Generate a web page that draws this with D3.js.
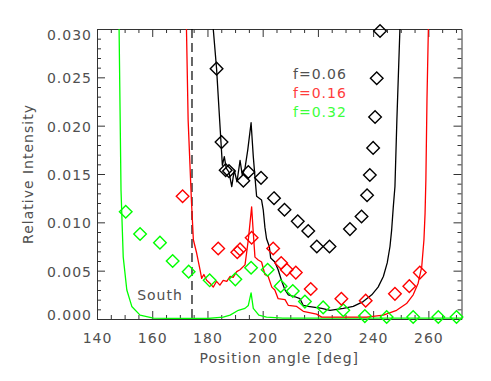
<!DOCTYPE html>
<html>
<head>
<meta charset="utf-8">
<script src="https://cdn.jsdelivr.net/npm/d3@7"></script>
<style>
  html, body { margin: 0; padding: 0; background: #fff; }
  text { font-family: "DejaVu Sans", sans-serif; font-size: 14px; letter-spacing: 1px; }
</style>
</head>
<body>
<div id="chart"></div>
<script>
// ---- data ----
const xTicks = [140, 160, 180, 200, 220, 240, 260];
const yTicks = [0, 0.005, 0.010, 0.015, 0.020, 0.025, 0.030];

const legendLabels = ["f=0.06", "f=0.16", "f=0.32"];
const seriesColors = ["#000000", "#ff0000", "#00ff00"];
const legendColors = ["#505050", "#ff3c3c", "#3cff3c"];

// f=0.06 (black)
const blackCurveAngle = [181.0, 182.1, 183.3, 184.2, 184.9, 185.4, 186.1, 186.8, 187.8, 188.8, 189.7, 190.7, 191.8, 192.6, 193.6, 194.6, 195.8, 196.6, 197.2, 197.8, 199.6, 200.2, 200.8, 201.4, 202.4, 202.9, 204.4, 205.6, 206.9, 208.1, 209.3, 211.7, 213.5, 214.7, 216.5, 221.4, 224.4, 229.2, 232.8, 236.4, 239.5, 241.8, 243.7, 245.1, 246.1, 246.7, 247.3, 247.9, 248.6, 249.7, 250.1];
const blackCurveValue = [0.034, 0.0300, 0.0259, 0.0216, 0.0183, 0.0159, 0.0168, 0.0156, 0.0152, 0.0137, 0.0154, 0.0142, 0.0164, 0.0149, 0.0156, 0.0175, 0.0203, 0.0168, 0.0147, 0.0127, 0.0123, 0.0113, 0.0095, 0.0083, 0.0075, 0.0063, 0.0059, 0.0051, 0.0039, 0.0030, 0.0025, 0.0023, 0.0021, 0.0014, 0.0013, 0.0011, 0.0009, 0.0011, 0.0013, 0.0018, 0.0025, 0.0033, 0.0044, 0.0058, 0.0075, 0.0092, 0.0116, 0.0137, 0.0206, 0.0300, 0.034];
const blackObsAngle = [183.3, 185.1, 186.6, 187.8, 193.0, 194.8, 199.4, 204.1, 207.9, 212.7, 216.5, 219.6, 224.2, 231.6, 235.8, 237.8, 238.8, 240.0, 240.7, 241.3, 242.5];
const blackObsValue = [0.0259, 0.0183, 0.0154, 0.0153, 0.0143, 0.0152, 0.0146, 0.0125, 0.0113, 0.0101, 0.0091, 0.0075, 0.0075, 0.0093, 0.0106, 0.0128, 0.0149, 0.0177, 0.0209, 0.0249, 0.0298];

// f=0.16 (red)
const redCurveAngle = [172.3, 172.4, 173.0, 174.2, 174.9, 176.1, 177.3, 177.9, 178.7, 179.7, 180.9, 182.1, 183.3, 184.5, 185.7, 187.0, 188.2, 189.3, 190.6, 191.8, 193.6, 194.8, 196.0, 196.6, 197.2, 198.4, 199.6, 200.8, 202.0, 203.3, 204.4, 205.6, 208.1, 209.3, 212.3, 214.7, 219.5, 221.4, 237.6, 243.7, 248.5, 252.1, 254.5, 256.3, 257.6, 258.4, 258.8, 259.1, 259.5, 260.0, 260.1];
const redCurveValue = [0.034, 0.0300, 0.0206, 0.0122, 0.0082, 0.0068, 0.0051, 0.0042, 0.0046, 0.0040, 0.0037, 0.0033, 0.0039, 0.0035, 0.0040, 0.0039, 0.0044, 0.0043, 0.0049, 0.0051, 0.0056, 0.0082, 0.0116, 0.0089, 0.0064, 0.0061, 0.0059, 0.0046, 0.0044, 0.0033, 0.0030, 0.0021, 0.0020, 0.0014, 0.0013, 0.0008, 0.0005, 0.0002, 0.0002, 0.0004, 0.0009, 0.0016, 0.0025, 0.0037, 0.0054, 0.0082, 0.0109, 0.0144, 0.0227, 0.0300, 0.034];
const redObsAngle = [171.0, 183.9, 190.8, 191.8, 196.0, 203.8, 206.7, 208.7, 212.0, 217.4, 228.5, 237.3, 247.9, 253.1, 256.9];
const redObsValue = [0.0127, 0.0073, 0.0069, 0.0072, 0.0084, 0.0073, 0.0058, 0.0051, 0.0048, 0.0031, 0.0021, 0.0019, 0.0026, 0.0034, 0.0048];

// f=0.32 (green)
const greenCurveAngle = [147.9, 148.0, 148.7, 149.5, 150.8, 152.6, 155.6, 160.4, 170.0, 180.0, 185.7, 188.2, 191.2, 193.6, 194.8, 195.8, 196.6, 198.6, 201.4, 207.3, 272.0];
const greenCurveValue = [0.034, 0.0300, 0.0133, 0.0064, 0.0030, 0.0013, 0.0004, 0.0001, 0.00005, 0.00005, 0.0002, 0.0004, 0.0009, 0.0011, 0.0014, 0.0027, 0.0011, 0.0004, 0.0002, 0.0001, 0.0001];
const greenObsAngle = [150.4, 155.6, 162.8, 167.4, 173.2, 180.8, 190.1, 195.8, 201.8, 206.5, 210.9, 215.3, 221.9, 229.2, 237.0, 244.9, 254.5, 263.6, 270.2];
const greenObsValue = [0.0111, 0.0088, 0.0079, 0.0060, 0.0049, 0.0040, 0.0041, 0.0053, 0.0051, 0.0034, 0.0029, 0.0018, 0.0012, 0.0009, 0.0003, 0.0002, 0.0002, 0.0002, 0.0002];

const southAngle = 174.4;

// ---- layout ----
const W = 491, H = 381;
const plot = { left: 97, right: 461.5, top: 29, bottom: 319 };

const svg = d3.select("#chart").append("svg")
    .attr("width", W)
    .attr("height", H);

svg.append("rect").attr("width", W).attr("height", H).attr("fill", "#fff");

const x = d3.scaleLinear().domain([140, 272]).range([plot.left, plot.right]);
const y = d3.scaleLinear().domain([0, 0.030]).range([plot.bottom, plot.top]);

svg.append("clipPath").attr("id", "clip")
    .append("rect")
    .attr("x", plot.left).attr("y", plot.top)
    .attr("width", plot.right - plot.left)
    .attr("height", plot.bottom - plot.top);

const axisColor = "#333";
const textColor = "#505050";

// ---- axes (ticks inward on all four sides) ----
const xMinor = d3.range(140, 272, 5).filter(v => v % 20 !== 0);
const yMinor = d3.range(0, 31).map(i => i / 1000).filter((v, i) => i % 5 !== 0);

function drawAxis(axisFn, scale, major, minor, transform) {
    const g = svg.append("g").attr("transform", transform);
    g.call(axisFn(scale).tickValues(major).tickSize(-8).tickSizeOuter(0).tickFormat(""));
    const gm = svg.append("g").attr("transform", transform);
    gm.call(axisFn(scale).tickValues(minor).tickSize(-4).tickSizeOuter(0).tickFormat(""));
    gm.select(".domain").remove();
    svg.selectAll("g .tick line").attr("stroke", axisColor);
    g.select(".domain").attr("stroke", axisColor);
}

drawAxis(d3.axisBottom, x, xTicks, xMinor, `translate(0,${plot.bottom})`);
drawAxis(d3.axisTop, x, xTicks, xMinor, `translate(0,${plot.top})`);
drawAxis(d3.axisLeft, y, yTicks, yMinor, `translate(${plot.left},0)`);
drawAxis(d3.axisRight, y, yTicks, yMinor, `translate(${plot.right},0)`);

// tick labels
svg.append("g").selectAll("text")
    .data(xTicks)
    .join("text")
    .attr("x", d => x(d) + 0.5)
    .attr("y", 343)
    .attr("text-anchor", "middle")
    .attr("fill", textColor)
    .text(d => d);

svg.append("g").selectAll("text")
    .data(yTicks)
    .join("text")
    .attr("x", 92)
    .attr("y", (d, i) => y(d) + 6 + (i === 0 ? -5 : 0) + (i === yTicks.length - 1 ? 5 : 0))
    .attr("text-anchor", "end")
    .attr("fill", textColor)
    .text(d => d3.format(".3f")(d));

// axis titles
svg.append("text")
    .attr("x", (plot.left + plot.right) / 2)
    .attr("y", 363)
    .attr("text-anchor", "middle")
    .attr("fill", textColor)
    .text("Position angle [deg]");

svg.append("text")
    .attr("transform", `translate(33,${(plot.top + plot.bottom) / 2}) rotate(-90)`)
    .attr("text-anchor", "middle")
    .attr("fill", textColor)
    .text("Relative Intensity");

// ---- plot contents ----
const body = svg.append("g").attr("clip-path", "url(#clip)");

// South marker
body.append("line")
    .attr("x1", x(southAngle)).attr("x2", x(southAngle))
    .attr("y1", plot.top).attr("y2", plot.bottom)
    .attr("stroke", "#000")
    .attr("stroke-width", 1.2)
    .attr("stroke-dasharray", "9,5");

svg.append("text")
    .attr("x", 160)
    .attr("y", 300)
    .attr("text-anchor", "middle")
    .attr("fill", textColor)
    .text("South");

const line = d3.line()
    .x(d => x(d[0]))
    .y(d => y(d[1]));

const curves = [
    [blackCurveAngle, blackCurveValue],
    [redCurveAngle, redCurveValue],
    [greenCurveAngle, greenCurveValue]
];
const observations = [
    [blackObsAngle, blackObsValue],
    [redObsAngle, redObsValue],
    [greenObsAngle, greenObsValue]
];

const diamond = "M0,-6.3L6.3,0L0,6.3L-6.3,0Z";

// draw green first so black ends up on top
[2, 1, 0].forEach(i => {
    const [ca, cv] = curves[i];
    body.append("path")
        .datum(d3.zip(ca, cv))
        .attr("fill", "none")
        .attr("stroke", seriesColors[i])
        .attr("stroke-width", 1.3)
        .attr("stroke-linejoin", "round")
        .attr("d", line);
});

[2, 1, 0].forEach(i => {
    const [oa, ov] = observations[i];
    svg.append("g").selectAll("path")
        .data(d3.zip(oa, ov))
        .join("path")
        .attr("transform", d => `translate(${x(d[0])},${y(d[1])})`)
        .attr("d", diamond)
        .attr("fill", "none")
        .attr("stroke", seriesColors[i])
        .attr("stroke-width", 1.4);
});

// legend
svg.append("g").selectAll("text")
    .data(legendLabels)
    .join("text")
    .attr("x", 293)
    .attr("y", (d, i) => 78.5 + i * 19)
    .attr("fill", (d, i) => legendColors[i])
    .text(d => d);
</script>
</body>
</html>
